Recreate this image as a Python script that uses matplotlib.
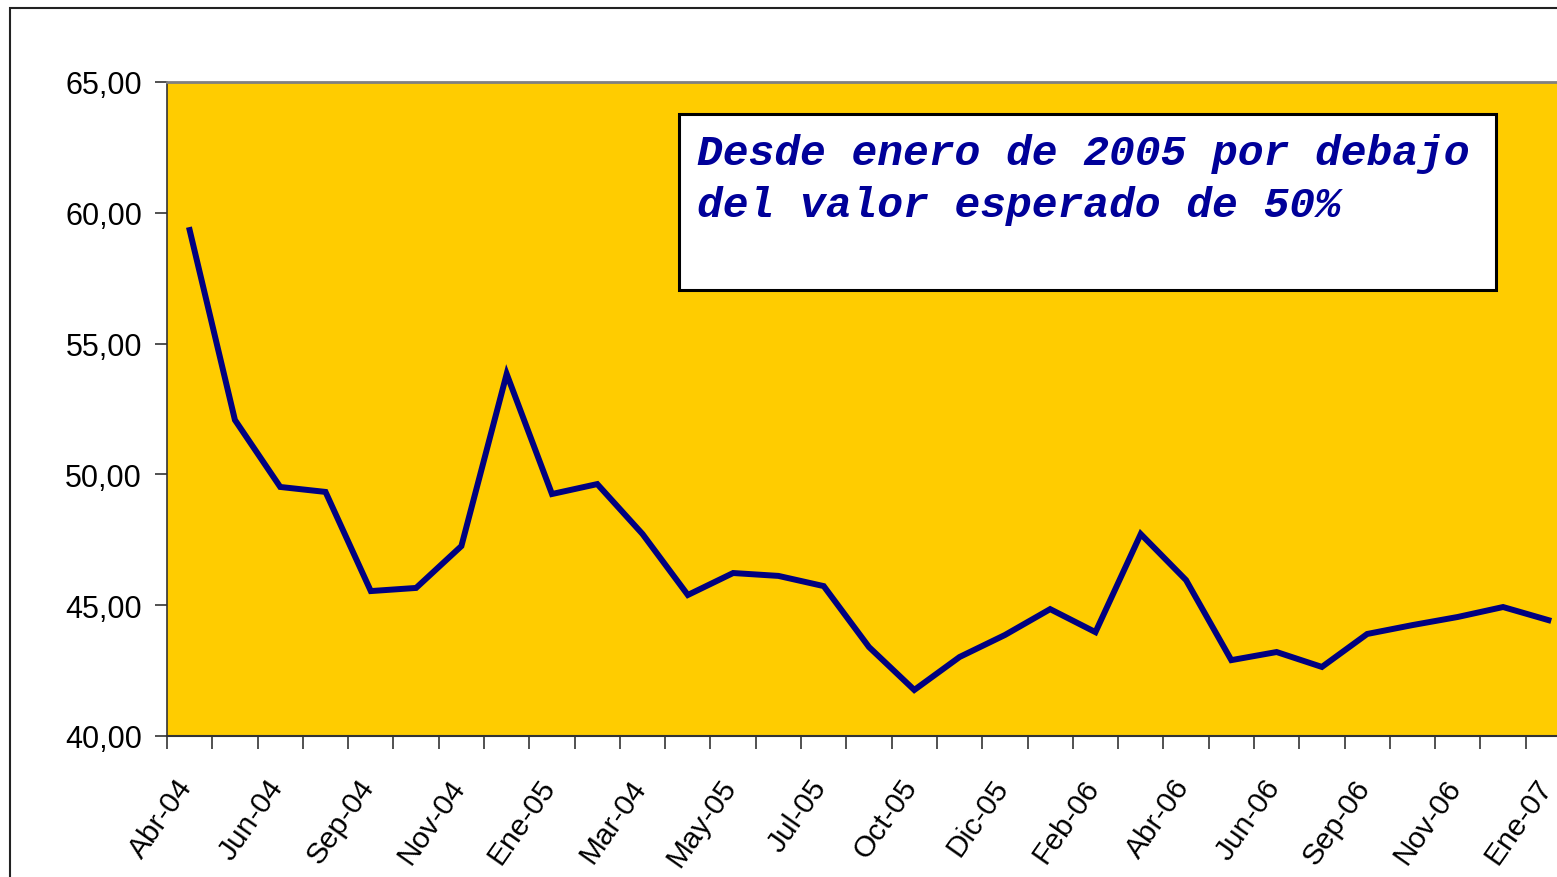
import matplotlib
matplotlib.use("Agg")
import matplotlib.pyplot as plt
from matplotlib.patches import Rectangle
from matplotlib.ticker import FixedLocator, FuncFormatter
from matplotlib.transforms import ScaledTranslation

values = [59.34, 52.08, 49.52, 49.33, 45.54, 45.66, 47.26, 53.84, 49.25, 49.63,
          47.72, 45.39, 46.23, 46.12, 45.73, 43.40, 41.76, 43.02, 43.86, 44.85,
          43.97, 47.72, 45.96, 42.90, 43.21, 42.64, 43.90, 44.24, 44.55, 44.93,
          44.43]
tick_labels = ["Abr-04", "Jun-04", "Sep-04", "Nov-04", "Ene-05", "Mar-04",
               "May-05", "Jul-05", "Oct-05", "Dic-05", "Feb-06", "Abr-06",
               "Jun-06", "Sep-06", "Nov-06", "Ene-07"]
y_ticks = [40, 45, 50, 55, 60, 65]
note = "Desde enero de 2005 por debajo\ndel valor esperado de 50%"

W, H = 1557, 878
fig = plt.figure(figsize=(W / 100, H / 100), dpi=100)
fig.patch.set_facecolor("white")

# outer chart border (cropped on right and bottom)
fig.add_artist(Rectangle((10 / W, -0.05), 1.2, (H - 9) / H + 0.05,
                         transform=fig.transFigure, fill=False,
                         edgecolor="#222222", linewidth=1.5))

left, right, top, bottom = 167, 1571, 83, 737
ax = fig.add_axes([left / W, (H - bottom) / H, (right - left) / W, (bottom - top) / H])
ax.set_facecolor("#FFCC00")

n = len(values)
x = list(range(n))
ax.plot(x, values, color="#000080", linewidth=4.3, solid_joinstyle="miter")

ax.set_xlim(-0.5, n - 0.5)
ax.set_ylim(40, 65)

ax.xaxis.set_major_locator(FixedLocator(x[::2]))
ax.set_xticklabels(tick_labels)
ax.xaxis.set_minor_locator(FixedLocator([i - 0.5 for i in range(n + 1)]))
ax.tick_params(axis="x", which="major", length=0, pad=27, labelsize=21.5)
ax.tick_params(axis="x", which="minor", length=9, width=1.2, color="#333333", direction="out")
shift = ScaledTranslation(-14 / 100, 0, fig.dpi_scale_trans)
for lab in ax.get_xticklabels():
    lab.set_rotation(55)
    lab.set_ha("right")
    lab.set_va("top")
    lab.set_rotation_mode("anchor")
    lab.set_fontfamily("Liberation Sans")
    lab.set_transform(lab.get_transform() + shift)

ax.yaxis.set_major_locator(FixedLocator(y_ticks))
ax.yaxis.set_major_formatter(FuncFormatter(lambda v, p: f"{v:.2f}".replace(".", ",")))
ax.tick_params(axis="y", length=9, width=1.2, color="#333333", direction="out", pad=9, labelsize=22)
for lab in ax.get_yticklabels():
    lab.set_fontfamily("Liberation Sans")

ax.spines["top"].set_color("#808080")
ax.spines["top"].set_linewidth(2)
ax.spines["right"].set_visible(False)
ax.spines["left"].set_color("#333333")
ax.spines["left"].set_linewidth(1.2)
ax.spines["bottom"].set_color("#333333")
ax.spines["bottom"].set_linewidth(1.5)

# annotation box
bx0, by0, bx1, by1 = 679, 115, 1496, 291
fig.add_artist(Rectangle((bx0 / W, (H - by1) / H), (bx1 - bx0) / W, (by1 - by0) / H,
                         transform=fig.transFigure, facecolor="white",
                         edgecolor="black", linewidth=2.2, zorder=5))
fig.text(697 / W, (H - 134) / H, note, ha="left", va="top",
         fontfamily="Liberation Mono", fontweight="bold", fontstyle="italic",
         fontsize=31, color="#000099", linespacing=1.4, zorder=6)

fig.savefig("out.png", dpi=100)
